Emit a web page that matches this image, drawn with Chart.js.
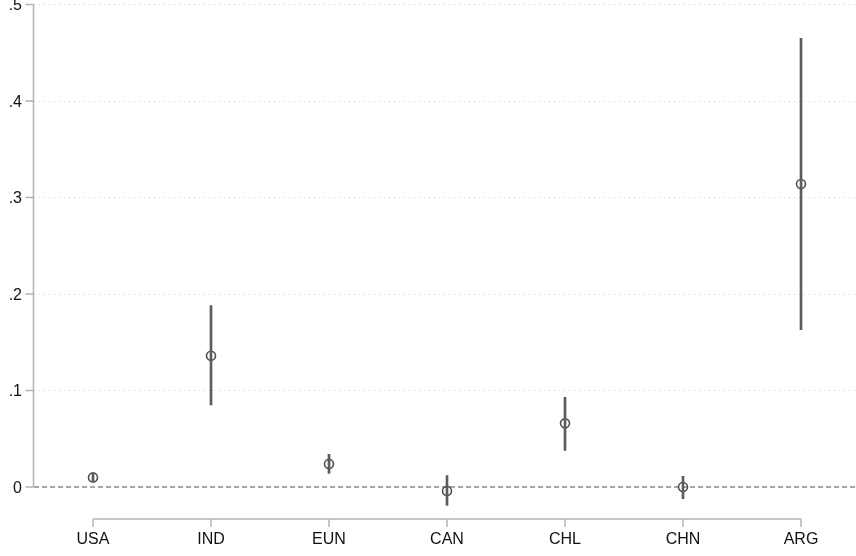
<!DOCTYPE html>
<html>
<head>
<meta charset="utf-8">
<script src="https://cdn.jsdelivr.net/npm/chart.js@4"></script>
<style>
  html, body { margin: 0; padding: 0; background: #fff; }
  #wrap { width: 856px; height: 556px; }
</style>
</head>
<body>
<div id="wrap"><canvas id="myChart"></canvas></div>
<script>
const countries = ['USA', 'IND', 'EUN', 'CAN', 'CHL', 'CHN', 'ARG'];
const estimates = [0.010, 0.136, 0.024, -0.004, 0.066, 0.000, 0.314];
const lowerCI = [0.006, 0.085, 0.014, -0.019, 0.038, -0.012, 0.163];
const upperCI = [0.014, 0.188, 0.034, 0.012, 0.093, 0.011, 0.465];
const yTicks = [0, 0.1, 0.2, 0.3, 0.4, 0.5];

const ctx = document.getElementById('myChart');

// stata-like axis lines, tick marks and the dashed zero line
const axesPlugin = {
    id: 'stataAxes',
    beforeDatasetsDraw(chart) {
        const c = chart.ctx;
        const xs = chart.scales.x, ys = chart.scales.y;
        const area = chart.chartArea;
        c.save();
        // zero reference line
        const y0 = ys.getPixelForValue(0);
        c.strokeStyle = '#8a8a8a';
        c.lineWidth = 1.5;
        c.setLineDash([5, 3]);
        c.beginPath();
        c.moveTo(area.left, y0);
        c.lineTo(area.right, y0);
        c.stroke();
        c.setLineDash([]);
        // y axis
        c.strokeStyle = '#b4b4b4';
        c.lineWidth = 1.5;
        const ax = area.left - 0.5;
        c.beginPath();
        c.moveTo(ax, ys.getPixelForValue(0.5));
        c.lineTo(ax, ys.getPixelForValue(0));
        yTicks.forEach(v => {
            const py = ys.getPixelForValue(v);
            c.moveTo(ax - 8, py);
            c.lineTo(ax, py);
        });
        c.stroke();
        // x axis
        const by = area.bottom;
        c.beginPath();
        c.moveTo(xs.getPixelForValue(0), by);
        c.lineTo(xs.getPixelForValue(countries.length - 1), by);
        countries.forEach((n, i) => {
            const px = xs.getPixelForValue(i);
            c.moveTo(px, by);
            c.lineTo(px, by + 8);
        });
        c.stroke();
        c.restore();
    }
};

new Chart(ctx, {
    type: 'scatter',
    data: {
        datasets: [{
            type: 'bar',
            label: 'CI',
            data: countries.map((n, i) => ({x: i, y: [lowerCI[i], upperCI[i]]})),
            backgroundColor: '#5c5c5c',
            barThickness: 2,
            borderWidth: 0
        },
        {
            label: 'Estimate',
            data: countries.map((n, i) => ({x: i, y: estimates[i]})),
            pointStyle: 'circle',
            pointRadius: 4.5,
            borderWidth: 1.6,
            borderColor: '#505050',
            backgroundColor: 'rgba(0,0,0,0)'
        }]
    },
    plugins: [axesPlugin],
    options: {
        responsive: true,
        maintainAspectRatio: false,
        animation: false,
        layout: { autoPadding: false, padding: { top: 4.5, left: 0, right: 0, bottom: 0 } },
        plugins: {
            legend: { display: false },
            tooltip: { enabled: false }
        },
        scales: {
            x: {
                type: 'linear',
                offset: false,
                min: -0.5,
                max: 6.466,
                afterBuildTicks: function(scale) {
                    scale.ticks = countries.map((n, i) => ({value: i}));
                },
                afterFit: function(scale) {
                    scale.height = 37;
                    scale.paddingLeft = 0;
                    scale.paddingRight = 0;
                },
                grid: { display: false, drawTicks: false, offset: false },
                border: { display: false },
                ticks: {
                    padding: 11,
                    maxRotation: 0,
                    autoSkip: false,
                    color: '#111',
                    font: { family: 'Liberation Sans, Arial, sans-serif', size: 16 },
                    callback: function(value) {
                        return countries[value];
                    }
                }
            },
            y: {
                type: 'linear',
                min: -0.0331,
                max: 0.5,
                afterBuildTicks: function(scale) {
                    scale.ticks = yTicks.map(v => ({value: v}));
                },
                afterFit: function(scale) {
                    scale.width = 34;
                    scale.paddingTop = 0;
                    scale.paddingBottom = 0;
                },
                grid: {
                    drawTicks: false,
                    lineWidth: 1,
                    color: function(c) {
                        return c.tick && c.tick.value === 0 ? 'rgba(0,0,0,0)' : '#d0d0d0';
                    }
                },
                border: { display: false, dash: [1, 4] },
                ticks: {
                    padding: 12,
                    labelOffset: 1.5,
                    color: '#111',
                    font: { family: 'Liberation Sans, Arial, sans-serif', size: 16 },
                    callback: function(value) {
                        if (value === 0) return '0';
                        return value.toFixed(1).replace(/^0/, '');
                    }
                }
            }
        }
    }
});
</script>
</body>
</html>
